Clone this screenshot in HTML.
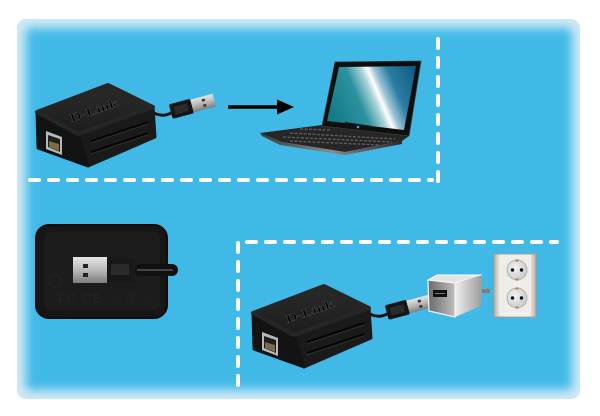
<!DOCTYPE html>
<html><head><meta charset="utf-8"><style>
html,body{margin:0;padding:0;background:#fff;}
svg{display:block;}
</style></head><body>
<svg width="600" height="416" viewBox="0 0 600 416" xmlns="http://www.w3.org/2000/svg">
<defs>
<clipPath id="pc"><rect x="17" y="19" width="563" height="380" rx="9"/></clipPath>
<filter id="bl" x="-10%" y="-10%" width="120%" height="120%"><feGaussianBlur stdDeviation="5"/></filter>
<linearGradient id="silver" x1="0" y1="0" x2="0" y2="1"><stop offset="0" stop-color="#e6e6e6"/><stop offset="0.5" stop-color="#b9b9b9"/><stop offset="1" stop-color="#7d7d7d"/></linearGradient>
<linearGradient id="topf" x1="0" y1="0" x2="0" y2="1"><stop offset="0" stop-color="#2a2a2a"/><stop offset="1" stop-color="#1d1d1d"/></linearGradient>
<linearGradient id="disp" gradientUnits="userSpaceOnUse" x1="330" y1="110" x2="423" y2="70">
<stop offset="0" stop-color="#137a88"/><stop offset="0.3" stop-color="#2c929f"/><stop offset="0.44" stop-color="#a9d2d7"/><stop offset="0.5" stop-color="#ffffff"/><stop offset="0.56" stop-color="#9cc3d6"/><stop offset="0.68" stop-color="#2a7ea3"/><stop offset="1" stop-color="#0a5078"/></linearGradient>
<linearGradient id="baseedge" x1="0" y1="0" x2="1" y2="0"><stop offset="0" stop-color="#3a3a3a"/><stop offset="0.5" stop-color="#8a8a8a"/><stop offset="1" stop-color="#2a2a2a"/></linearGradient>
<linearGradient id="chfront" x1="0" y1="0" x2="1" y2="0"><stop offset="0" stop-color="#6a6a6a"/><stop offset="1" stop-color="#bdbdbd"/></linearGradient>
<linearGradient id="chright" x1="0" y1="0" x2="1" y2="0"><stop offset="0" stop-color="#eeeeee"/><stop offset="1" stop-color="#9c9c9c"/></linearGradient>
<linearGradient id="outl" x1="0" y1="0" x2="1" y2="0"><stop offset="0" stop-color="#b9aea2"/><stop offset="0.15" stop-color="#f2efea"/><stop offset="0.85" stop-color="#f2efea"/><stop offset="1" stop-color="#b9aea2"/></linearGradient>
<radialGradient id="sock" cx="0.4" cy="0.4" r="0.7"><stop offset="0" stop-color="#f4f4f4"/><stop offset="1" stop-color="#c4c4c4"/></radialGradient>
</defs>

<!-- panel -->
<g clip-path="url(#pc)">
<rect x="17" y="19" width="563" height="380" fill="#cfe9f6"/>
<rect x="26" y="28" width="546" height="362" rx="4" fill="#41b9e7" filter="url(#bl)"/>
</g>

<!-- dashed lines -->
<g stroke="#fff" stroke-width="4" stroke-linecap="round" fill="none" stroke-dasharray="9 10">
<line x1="30" y1="180" x2="432" y2="180"/>
<line x1="438" y1="181" x2="438" y2="36"/>
<line x1="238" y1="243" x2="238" y2="386"/>
<line x1="247" y1="242" x2="557" y2="242"/>
</g>

<!-- top device -->
<g>
<path d="M150,111 C160,117 166,116 173,112" stroke="#111" stroke-width="3" fill="none"/>
<polygon points="78,134 153,107 155,137 88,166" fill="#1a1a1a" stroke="#1a1a1a" stroke-width="3" stroke-linejoin="round"/>
<polygon points="37,112 78,134 88,166 38,148" fill="#131313" stroke="#131313" stroke-width="3" stroke-linejoin="round"/>
<polygon points="37,112 108,85 153,107 78,134" fill="url(#topf)" stroke="#262626" stroke-width="4" stroke-linejoin="round"/>
<line x1="91" y1="141" x2="148" y2="122" stroke="#050505" stroke-width="1.8"/>
<line x1="91" y1="143" x2="148" y2="124" stroke="#333" stroke-width="0.7"/>
<line x1="91" y1="152" x2="148" y2="133" stroke="#050505" stroke-width="1.8"/>
<line x1="91" y1="154" x2="148" y2="135" stroke="#333" stroke-width="0.7"/>
<polygon points="46,131 62,137 62,155 46,149" fill="#b8b8b8"/>
<polygon points="48,135 60,139 60,152 48,147" fill="#1e1e1e"/>
<polygon points="49,141 59,144 59,151 49,147" fill="#7a6c48"/>
<text x="0" y="0" transform="translate(95,114) rotate(-19) scale(1,0.72)" font-family="Liberation Serif, serif" font-weight="bold" font-size="16" text-anchor="middle" fill="#050505" stroke="#4a4a4a" stroke-width="0.6">D-Link</text>
<g transform="rotate(-15 192 106)">
<rect x="170" y="98.5" width="22" height="15" rx="2" fill="#151515"/>
<rect x="174" y="102" width="14" height="8" fill="#2a2a2a"/>
<rect x="192" y="99.5" width="23" height="13" fill="url(#silver)"/>
<rect x="203" y="102" width="3" height="2.5" fill="#333"/>
<rect x="203" y="107.5" width="3" height="2.5" fill="#333"/>
</g>
</g>

<!-- arrow -->
<line x1="228" y1="107" x2="281" y2="107" stroke="#000" stroke-width="3.5"/>
<polygon points="277,99.5 294,107 277,114.5" fill="#000"/>

<!-- laptop -->
<polygon points="260,133 322,125 409,136 402,141 345,152 282,142" fill="#262626"/>
<polygon points="260,133 282,142 345,152 402,141 402,144 345,155 280,145 262,136" fill="url(#baseedge)"/>
<g stroke="#5e5e5e" stroke-width="1.3" stroke-dasharray="3 1.5" fill="none">
<line x1="290" y1="133" x2="395" y2="139"/>
<line x1="283" y1="137" x2="392" y2="142"/>
<line x1="290" y1="141" x2="380" y2="145"/>
<line x1="300" y1="129" x2="330" y2="130"/>
</g>
<polygon points="335,62 421,61 409,136 322,126" fill="#0e0e0e" stroke="#3a3a3a" stroke-width="0.8" stroke-linejoin="round"/>
<polygon points="339,67 416,66 404,130 327,121" fill="url(#disp)"/>
<polygon points="345,122 372,126 371,131 344,127" fill="#111"/>
<circle cx="358" cy="127" r="1.3" fill="#2aa8e8"/>

<!-- back of device -->
<rect x="36" y="225" width="131" height="93" rx="13" fill="#161616" stroke="#0a0a0a" stroke-width="2"/>
<rect x="44" y="232" width="116" height="78" rx="6" fill="#1c1c1c"/>
<text x="58" y="303" font-family="Liberation Sans, sans-serif" font-size="13" fill="#242424" letter-spacing="1">FC CE ⓘ ⊗ ♲</text>
<circle cx="55" cy="281" r="6" fill="none" stroke="#242424" stroke-width="1"/>
<rect x="134" y="264" width="44" height="12" rx="6" fill="#111"/>
<line x1="137" y1="270" x2="173" y2="270" stroke="#555" stroke-width="1.4"/>
<rect x="73" y="257" width="34" height="26" fill="url(#silver)"/>
<rect x="83" y="264" width="5" height="4" fill="#222"/>
<rect x="83" y="273" width="5" height="4" fill="#222"/>
<rect x="107" y="258" width="28" height="24" rx="2" fill="#181818"/>
<rect x="111" y="264" width="18" height="11" fill="#2a2a2a"/>

<!-- bottom device -->
<g transform="translate(216,201)">
<path d="M150,111 C160,117 166,116 173,112" stroke="#111" stroke-width="3" fill="none"/>
<polygon points="78,134 153,107 155,137 88,166" fill="#1a1a1a" stroke="#1a1a1a" stroke-width="3" stroke-linejoin="round"/>
<polygon points="37,112 78,134 88,166 38,148" fill="#131313" stroke="#131313" stroke-width="3" stroke-linejoin="round"/>
<polygon points="37,112 108,85 153,107 78,134" fill="url(#topf)" stroke="#262626" stroke-width="4" stroke-linejoin="round"/>
<line x1="91" y1="141" x2="148" y2="122" stroke="#050505" stroke-width="1.8"/>
<line x1="91" y1="143" x2="148" y2="124" stroke="#333" stroke-width="0.7"/>
<line x1="91" y1="152" x2="148" y2="133" stroke="#050505" stroke-width="1.8"/>
<line x1="91" y1="154" x2="148" y2="135" stroke="#333" stroke-width="0.7"/>
<polygon points="46,131 62,137 62,155 46,149" fill="#b8b8b8"/>
<polygon points="48,135 60,139 60,152 48,147" fill="#1e1e1e"/>
<polygon points="49,141 59,144 59,151 49,147" fill="#7a6c48"/>
<text x="0" y="0" transform="translate(95,114) rotate(-19) scale(1,0.72)" font-family="Liberation Serif, serif" font-weight="bold" font-size="16" text-anchor="middle" fill="#050505" stroke="#4a4a4a" stroke-width="0.6">D-Link</text>
<g transform="rotate(-15 192 106)">
<rect x="170" y="98.5" width="22" height="15" rx="2" fill="#151515"/>
<rect x="174" y="102" width="14" height="8" fill="#2a2a2a"/>
<rect x="192" y="99.5" width="23" height="13" fill="url(#silver)"/>
<rect x="203" y="102" width="3" height="2.5" fill="#333"/>
<rect x="203" y="107.5" width="3" height="2.5" fill="#333"/>
</g>
</g>

<!-- charger -->
<rect x="482" y="289" width="8" height="4" fill="#8a7a6a"/>
<polygon points="428,280 437,275 482,275 455,283" fill="#e4e4e4" stroke="#fff" stroke-width="1"/>
<polygon points="455,283 482,275 481,306 455,317" fill="url(#chright)"/>
<polygon points="428,280 455,283 455,317 429,311" fill="url(#chfront)" stroke="#f4f4f4" stroke-width="1.2"/>
<rect x="433" y="290" width="14" height="7" fill="#111"/>
<line x1="435" y1="293.5" x2="445" y2="293.5" stroke="#777" stroke-width="1"/>

<!-- outlet -->
<rect x="494" y="254" width="42" height="63" fill="url(#outl)" stroke="#a89c90" stroke-width="1"/>
<rect x="499" y="259" width="32" height="53" fill="#efede9"/>
<g>
<circle cx="517" cy="270" r="10" fill="url(#sock)" stroke="#b5b5b5" stroke-width="1"/>
<circle cx="512.5" cy="270" r="1.7" fill="#111"/>
<circle cx="521.5" cy="270" r="1.7" fill="#111"/>
<rect x="515.5" y="259.5" width="3" height="2" fill="#c47a3c"/>
<rect x="515.5" y="278.5" width="3" height="2" fill="#c47a3c"/>
<circle cx="517" cy="298" r="10" fill="url(#sock)" stroke="#b5b5b5" stroke-width="1"/>
<circle cx="512.5" cy="298" r="1.7" fill="#111"/>
<circle cx="521.5" cy="298" r="1.7" fill="#111"/>
<rect x="515.5" y="287.5" width="3" height="2" fill="#c47a3c"/>
<rect x="515.5" y="306.5" width="3" height="2" fill="#c47a3c"/>
</g>
</svg>
</body></html>
